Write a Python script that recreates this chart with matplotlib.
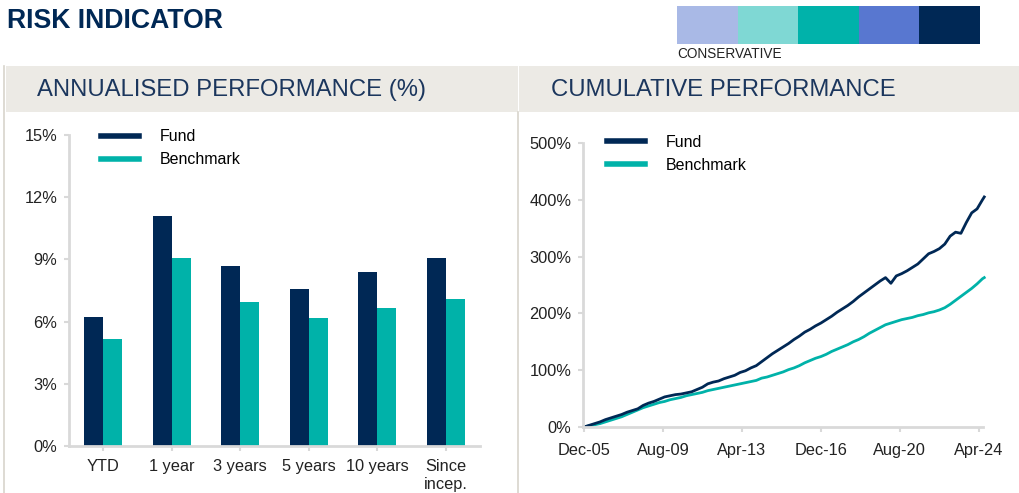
import numpy as np
import matplotlib.pyplot as plt
from matplotlib.patches import Rectangle
from matplotlib.lines import Line2D

plt.rcParams['font.family'] = ['Liberation Sans', 'DejaVu Sans']

NAVY = '#002855'
TEAL = '#00B2A9'
TXT = '#1B365D'
GRID = '#D9D9D9'
BAND = '#ECEAE5'

# annualised performance (%)
periods = ['YTD', '1 year', '3 years', '5 years', '10 years', 'Since\nincep.']
fund_ann = [6.2, 11.1, 8.7, 7.55, 8.4, 9.05]
bench_ann = [5.15, 9.05, 6.95, 6.15, 6.65, 7.1]

# cumulative performance (%), quarterly from Dec-05, last point Jul-24
months = list(range(0, 223, 3)) + [223]
fund_cum = [0, 3, 6, 9, 13, 16, 19, 22, 26, 29, 32, 38, 42, 45, 49, 53, 55, 57, 58, 60,
            62, 66, 70, 76, 79, 81, 85, 88, 91, 96, 99, 104, 108, 115, 122, 129, 135, 141,
            147, 154, 160, 167, 172, 178, 183, 189, 195, 202, 208, 214, 221, 229, 236, 243,
            250, 257, 263, 253, 266, 270, 275, 281, 287, 296, 305, 309, 314, 322, 336, 343,
            341, 360, 377, 384, 400, 405]
bench_cum = [0, 2, 4, 6, 9, 12, 15, 18, 22, 26, 30, 34, 37, 40, 43, 45, 48, 50, 52, 55,
             57, 59, 61, 64, 66, 68, 70, 72, 74, 76, 78, 80, 82, 86, 88, 91, 94, 97, 101,
             104, 108, 113, 117, 121, 124, 128, 133, 137, 141, 145, 150, 154, 159, 165, 170,
             175, 180, 183, 186, 189, 191, 193, 196, 198, 201, 203, 206, 210, 216, 223, 230,
             237, 244, 252, 261, 263]
date_ticks = [0, 44, 88, 132, 176, 220]
date_labels = ['Dec-05', 'Aug-09', 'Apr-13', 'Dec-16', 'Aug-20', 'Apr-24']

risk_colors = ['#A9B9E6', '#7FD8D4', '#00B2AA', '#5877D0', '#002855']

W, H = 1019, 493
fig = plt.figure(figsize=(W / 100, H / 100), dpi=100)


def fx(px):
    return px / W


def fy(py):
    return 1 - py / H


# header
fig.text(fx(7), fy(21), 'RISK INDICATOR', fontsize=19.2, fontweight='bold', color=NAVY,
         va='center', ha='left')
for i, c in enumerate(risk_colors):
    fig.patches.append(Rectangle((fx(677 + i * 60.6), fy(44)), fx(60.6), 38 / H,
                                 transform=fig.transFigure, color=c, lw=0))
fig.text(fx(677), fy(54), 'CONSERVATIVE', fontsize=9.8, color='#222222', va='center')

# section bands and frame lines
fig.patches.append(Rectangle((fx(6), fy(112)), fx(511.5), 46 / H, transform=fig.transFigure,
                             color=BAND, lw=0))
fig.patches.append(Rectangle((fx(519), fy(112)), fx(500), 46 / H, transform=fig.transFigure,
                             color=BAND, lw=0))
fig.lines.append(Line2D([fx(3.5), fx(3.5)], [fy(66), 0], transform=fig.transFigure,
                        color='#D8D4CC', lw=1.2))
fig.lines.append(Line2D([fx(518.3), fx(518.3)], [fy(112), 0], transform=fig.transFigure,
                        color='#D8D4CC', lw=1.2))
fig.text(fx(37), fy(90), 'ANNUALISED PERFORMANCE (%)', fontsize=17.2, color=TXT, va='center')
fig.text(fx(551), fy(90), 'CUMULATIVE PERFORMANCE', fontsize=17.2, color=TXT, va='center')


def style_axes(ax):
    for s in ['top', 'right']:
        ax.spines[s].set_visible(False)
    for s in ['left', 'bottom']:
        ax.spines[s].set_color(GRID)
        ax.spines[s].set_linewidth(2)
    ax.tick_params(axis='both', colors=GRID, labelcolor='#222222', labelsize=11.8,
                   length=3.5, width=1.5)


# annualised bars
ax1 = fig.add_axes([fx(69), fy(446), fx(411), (446 - 135) / H])
x = np.arange(len(periods))
bw = 0.28
ax1.bar(x - bw / 2, fund_ann, bw, color=NAVY, label='Fund')
ax1.bar(x + bw / 2, bench_ann, bw, color=TEAL, label='Benchmark')
ax1.set_xlim(-0.5, len(periods) - 0.5)
ax1.set_ylim(0, 15)
ax1.set_yticks([0, 3, 6, 9, 12, 15])
ax1.set_yticklabels(['0%', '3%', '6%', '9%', '12%', '15%'])
ax1.set_xticks(x)
ax1.set_xticklabels(periods, linespacing=1.25)
style_axes(ax1)
ax1.tick_params(axis='x', pad=6)
ax1.tick_params(axis='y', pad=5)
h1 = [Line2D([], [], color=NAVY, lw=4), Line2D([], [], color=TEAL, lw=4)]
ax1.legend(h1, ['Fund', 'Benchmark'], loc='upper left', bbox_to_anchor=(0.078, 1.018),
           frameon=False, fontsize=11.5, handlelength=2.4, handletextpad=1.25,
           labelspacing=0.5, borderpad=0, borderaxespad=0)

# cumulative lines
ax2 = fig.add_axes([fx(583), fy(427), fx(400), (427 - 143) / H])
ax2.plot(months, bench_cum, color=TEAL, lw=2.0, clip_on=False)
ax2.plot(months, fund_cum, color=NAVY, lw=2.0, clip_on=False)
ax2.set_xlim(-0.5, 222.3)
ax2.set_ylim(0, 500)
ax2.set_yticks(range(0, 501, 100))
ax2.set_yticklabels([f'{v}%' for v in range(0, 501, 100)])
ax2.set_xticks(date_ticks)
ax2.set_xticklabels(date_labels)
style_axes(ax2)
ax2.tick_params(axis='x', pad=8)
ax2.tick_params(axis='y', pad=5)
h2 = [Line2D([], [], color=NAVY, lw=4), Line2D([], [], color=TEAL, lw=4)]
ax2.legend(h2, ['Fund', 'Benchmark'], loc='upper left', bbox_to_anchor=(0.06, 1.028),
           frameon=False, fontsize=11.5, handlelength=2.4, handletextpad=1.25,
           labelspacing=0.5, borderpad=0, borderaxespad=0)

fig.savefig('out.png', dpi=100)
